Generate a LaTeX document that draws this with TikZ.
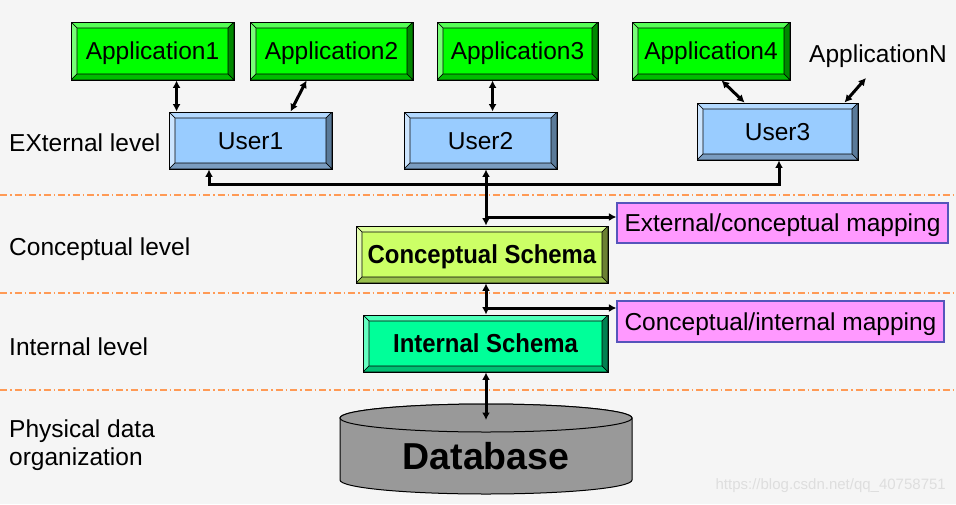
\documentclass[tikz,border=0pt]{standalone}
\usepackage{fontspec}
\setmainfont{Liberation Sans}
\newfontfamily\narrowsans[FakeStretch=0.92]{Liberation Sans}
\usetikzlibrary{arrows.meta,calc}
\definecolor{bg}{HTML}{F5F5F5}
\definecolor{appF}{HTML}{00FF00}\definecolor{appT}{HTML}{55FF55}\definecolor{appL}{HTML}{77FF77}\definecolor{appR}{HTML}{008800}\definecolor{appB}{HTML}{00BB00}
\definecolor{usrF}{HTML}{99CCFF}\definecolor{usrT}{HTML}{B3D9FF}\definecolor{usrL}{HTML}{CCE5FF}\definecolor{usrR}{HTML}{5A7A99}\definecolor{usrB}{HTML}{7A9CC0}
\definecolor{conF}{HTML}{CCFF66}\definecolor{conT}{HTML}{DDFF99}\definecolor{conL}{HTML}{E6FFB3}\definecolor{conR}{HTML}{6B8033}\definecolor{conB}{HTML}{99BF4D}
\definecolor{intF}{HTML}{00FF99}\definecolor{intT}{HTML}{4DFFB8}\definecolor{intL}{HTML}{66FFC2}\definecolor{intR}{HTML}{008050}\definecolor{intB}{HTML}{00BF73}
\definecolor{mapF}{HTML}{FF99FF}\definecolor{mapD}{HTML}{5555BB}
\definecolor{dashc}{HTML}{FF9A55}
\definecolor{dbgray}{HTML}{999999}
\tikzset{
  bevel/.style n args={5}{draw=black, line width=0.9pt, fill=#1, inner sep=0pt,
    path picture={
      \path (path picture bounding box.north west) coordinate (pbA)
            (path picture bounding box.north east) coordinate (pbB)
            (path picture bounding box.south east) coordinate (pbC)
            (path picture bounding box.south west) coordinate (pbD);
      \path ([shift={(6pt,-6pt)}]pbA) coordinate (piA)
            ([shift={(-6pt,-6pt)}]pbB) coordinate (piB)
            ([shift={(-6pt,6pt)}]pbC) coordinate (piC)
            ([shift={(6pt,6pt)}]pbD) coordinate (piD);
      \filldraw[fill=#2,draw=black,line width=0.6pt] (pbA)--(pbB)--(piB)--(piA)--cycle;
      \filldraw[fill=#3,draw=black,line width=0.6pt] (pbA)--(piA)--(piD)--(pbD)--cycle;
      \filldraw[fill=#4,draw=black,line width=0.6pt] (pbB)--(pbC)--(piC)--(piB)--cycle;
      \filldraw[fill=#5,draw=black,line width=0.6pt] (pbD)--(piD)--(piC)--(pbC)--cycle;
    }},
  txt/.style={font=\fontsize{24.5}{28}\selectfont, text height=17.5pt, text depth=0pt},
  schem/.style={font=\fontsize{26}{30}\selectfont\narrowsans\bfseries, text height=18.6pt, text depth=0pt},
  app/.style={bevel={appF}{appT}{appL}{appR}{appB}, txt, minimum height=58pt},
  usr/.style={bevel={usrF}{usrT}{usrL}{usrR}{usrB}, txt, minimum height=57pt},
  mapbox/.style={draw=mapD, fill=mapF, line width=1.2pt, txt, inner sep=0pt},
  lbl/.style={txt, anchor=west, inner sep=0pt},
  ln/.style={line width=3pt, draw=black},
  dbl/.style={ln, {Latex[length=7.5pt,width=8pt]}-{Latex[length=7.5pt,width=8pt]}},
  sgl/.style={ln, -{Latex[length=7.5pt,width=8pt]}},
  lev/.style={draw=dashc, line width=1.2pt, dash pattern=on 7pt off 3pt on 1.5pt off 3pt},
}
\begin{document}
\begin{tikzpicture}[x=1pt,y=-1pt]
\useasboundingbox (0,0) rectangle (956,504);
\fill[bg] (0,0) rectangle (956,504);

% level separators
\coordinate (s1l) at (0,195); \coordinate (s1r) at (956,195);
\coordinate (s2l) at (0,293); \coordinate (s2r) at (956,293);
\coordinate (s3l) at (0,390); \coordinate (s3r) at (956,390);
\draw[lev] (s1l) -- (s1r);
\draw[lev] (s2l) -- (s2r);
\draw[lev] (s3l) -- (s3r);

% level labels
\node[lbl] (lext) at (9,143) {EXternal level};
\node[lbl] (lcon) at (9,247) {Conceptual level};
\node[lbl] (lint) at (9,347) {Internal level};
\node[font=\fontsize{24.5}{28}\selectfont, align=left, anchor=base west, inner sep=0pt] (lphy) at (9,465) {Physical data\\organization};

% applications
\node[app, minimum width=163pt] (app1) at (152.5,51) {Application1};
\node[app, minimum width=163pt] (app2) at (331.5,51) {Application2};
\node[app, minimum width=161pt] (app3) at (517.5,51) {Application3};
\node[app, minimum width=158pt] (app4) at (711,51) {Application4};
\node[txt, inner sep=0pt] (appN) at (878,53.5) {ApplicationN};

% users
\node[usr, minimum width=163pt] (user1) at (250.5,140.5) {User1};
\node[usr, minimum width=153pt] (user2) at (480.5,140.5) {User2};
\node[usr, minimum width=161pt] (user3) at (777.5,131.5) {User3};

% schemas
\node[bevel={conF}{conT}{conL}{conR}{conB}, minimum width=252pt, minimum height=57pt, schem] (concept) at (482,254.5) {Conceptual Schema};
\node[bevel={intF}{intT}{intL}{intR}{intB}, minimum width=245pt, minimum height=57pt, schem] (internal) at (485.5,343.5) {Internal Schema};

% mapping boxes
\node[mapbox, minimum width=331pt, minimum height=40pt] (map1) at (782.5,223) {External/conceptual mapping};
\node[mapbox, minimum width=327pt, minimum height=41pt] (map2) at (780.5,321.5) {Conceptual/internal mapping};

% database cylinder
\filldraw[fill=dbgray, draw=black, line width=1pt]
  (340,418) -- (340,480) arc[start angle=180, end angle=360, x radius=146pt, y radius=14pt]
  -- (632,418) arc[start angle=0, end angle=180, x radius=146pt, y radius=14pt] -- cycle;
\filldraw[fill=dbgray, draw=black, line width=1pt] (486,418) ellipse [x radius=146pt, y radius=14pt];
\node[font=\fontsize{37.5}{40}\selectfont\bfseries, inner sep=0pt, text height=26.9pt, text depth=0pt] (db) at (486,456.5) {Database};
\coordinate (dbtop) at (486,420);

% connectors: applications to users
\draw[dbl] ([xshift=106pt]app1.south west) -- ([xshift=8pt]user1.north west);
\draw[dbl] ([xshift=57pt]app2.south west) -- ([xshift=122pt]user1.north west);
\draw[dbl] ([xshift=56pt]app3.south west) -- ([xshift=89pt]user2.north west);
\draw[dbl] ([xshift=90pt]app4.south west) -- ([xshift=48pt]user3.north west);
\coordinate (appNend) at (866,78);
\draw[dbl] (appNend) -- ([xshift=148pt]user3.north west);

% bus between users
\coordinate (busL) at (209,184);
\coordinate (busR) at (779,184);
\coordinate (vx) at (486,0);
\draw[ln, {Latex[length=7.5pt,width=8pt]}-{Latex[length=7.5pt,width=8pt]}, line join=miter]
  (user1.south -| busL) -- (busL) -- (busR) -- (user3.south -| busR);
\draw[dbl] (user2.south -| vx) -- (concept.north -| vx);

% mappings
\coordinate (m1) at (486,217);
\coordinate (m2) at (486,308);
\draw[sgl] (m1) -- (map1.west |- m1);
\draw[sgl] (m2) -- (map2.west |- m2);
\draw[dbl] (concept.south -| vx) -- (internal.north -| vx);
\draw[dbl] (internal.south -| vx) -- (dbtop);

% watermark
\node[font=\fontsize{15}{17}\selectfont, text=black!13, anchor=east, inner sep=0pt] (wm) at (946,486) {https://blog.csdn.net/qq\_40758751};
\end{tikzpicture}
\end{document}
